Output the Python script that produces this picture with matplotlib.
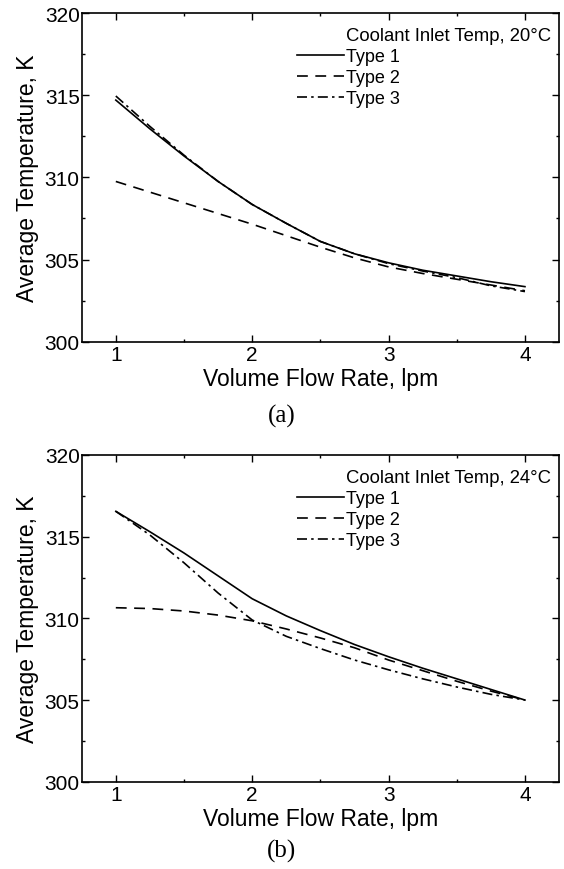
import matplotlib
matplotlib.use("Agg")
import matplotlib.pyplot as plt
from matplotlib.ticker import MultipleLocator

plt.rcParams['font.family'] = ['Liberation Sans', 'DejaVu Sans']

# volume flow rate, lpm
flow = [1.0, 1.25, 1.5, 1.75, 2.0, 2.25, 2.5, 2.75, 3.0, 3.25, 3.5, 3.75, 4.0]

# (a) coolant inlet 20 C
a_type1 = [314.7, 312.95, 311.3, 309.75, 308.35, 307.2, 306.1, 305.35, 304.8, 304.35, 304.0, 303.65, 303.35]
a_type2 = [309.75, 309.1, 308.45, 307.8, 307.15, 306.45, 305.75, 305.1, 304.55, 304.15, 303.8, 303.45, 303.1]
a_type3 = [314.95, 313.1, 311.35, 309.75, 308.35, 307.2, 306.1, 305.35, 304.75, 304.3, 303.9, 303.4, 303.05]

# (b) coolant inlet 24 C
b_type1 = [316.55, 315.3, 314.0, 312.6, 311.2, 310.15, 309.25, 308.4, 307.65, 306.95, 306.3, 305.65, 305.0]
b_type2 = [310.65, 310.6, 310.45, 310.2, 309.85, 309.35, 308.8, 308.2, 307.45, 306.8, 306.15, 305.55, 305.0]
b_type3 = [316.55, 315.1, 313.4, 311.55, 309.9, 308.9, 308.15, 307.45, 306.85, 306.3, 305.8, 305.35, 305.0]

series_labels = ["Type 1", "Type 2", "Type 3"]
panel_titles = ["Coolant Inlet Temp, 20\u00b0C", "Coolant Inlet Temp, 24\u00b0C"]
panel_tags = ["(a)", "(b)"]

styles = [dict(linestyle='-'),
          dict(linestyle=(0, (6.5, 4.5))),
          dict(linestyle=(0, (6, 2.5, 1.5, 2.5)))]

fig = plt.figure(figsize=(5.64, 8.70), dpi=100)
ax_a = fig.add_axes([0.1449, 0.6061, 0.8463, 0.3778])
ax_b = fig.add_axes([0.1449, 0.1003, 0.8463, 0.3756])

panels = [(ax_a, [a_type1, a_type2, a_type3]), (ax_b, [b_type1, b_type2, b_type3])]

for i, (ax, data) in enumerate(panels):
    lines = []
    for ys, st in zip(data, styles):
        ln, = ax.plot(flow, ys, color='black', lw=1.2, **st)
        lines.append(ln)
    ax.set_xlim(0.75, 4.25)
    ax.set_ylim(300, 320)
    ax.xaxis.set_major_locator(MultipleLocator(1))
    ax.xaxis.set_minor_locator(MultipleLocator(0.5))
    ax.yaxis.set_major_locator(MultipleLocator(5))
    ax.yaxis.set_minor_locator(MultipleLocator(2.5))
    ax.tick_params(which='both', direction='in', top=True, right=True, width=1)
    ax.tick_params(which='major', length=5, labelsize=15)
    ax.tick_params(which='minor', length=2.5)
    ax.tick_params(axis='y', pad=1.5)
    ax.tick_params(axis='x', pad=2.5)
    for sp in ax.spines.values():
        sp.set_linewidth(1.2)
    ax.set_xlabel("Volume Flow Rate, lpm", fontsize=16.5, labelpad=2)
    ax.set_ylabel("Average Temperature, K", fontsize=16.5, labelpad=4)

    ax.text(0.553, 0.932, panel_titles[i], transform=ax.transAxes,
            fontsize=13.3, ha='left', va='center')
    ax.legend(lines, series_labels, loc='upper left', bbox_to_anchor=(0.452, 0.893),
              frameon=False, fontsize=13, handlelength=2.55, handletextpad=0.15,
              labelspacing=0.22, borderpad=0, borderaxespad=0)

fig.text(0.5, 1 - 416.7 / 870, panel_tags[0], ha='center', va='center',
         fontsize=18, family='Liberation Serif')
fig.text(0.5, 1 - 851.7 / 870, panel_tags[1], ha='center', va='center',
         fontsize=18, family='Liberation Serif')

fig.savefig("out.png", dpi=100)
